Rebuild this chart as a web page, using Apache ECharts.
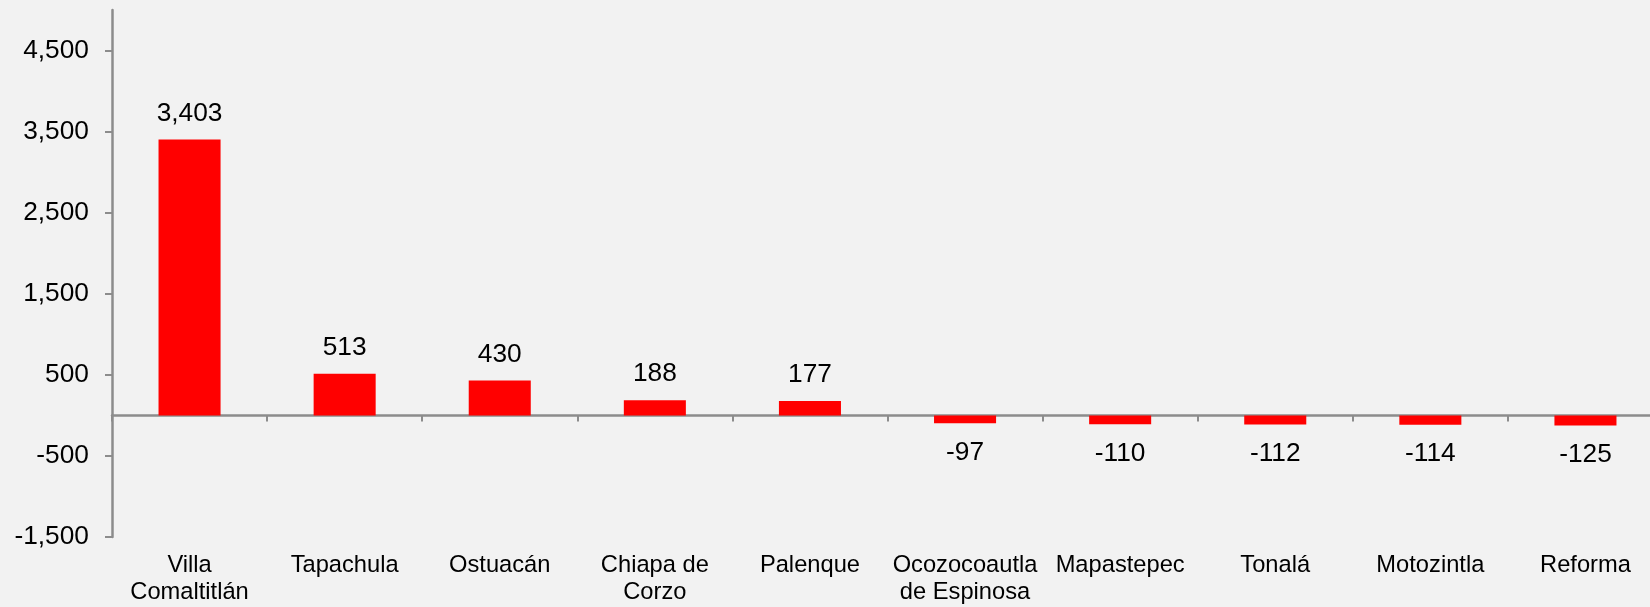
<!DOCTYPE html>
<html>
<head>
<meta charset="utf-8">
<script src="https://cdn.jsdelivr.net/npm/echarts@6/dist/echarts.min.js"></script>
<style>
  html, body { margin: 0; padding: 0; background: #f2f2f2; }
  #chart { width: 1650px; height: 607px; }
</style>
</head>
<body>
<div id="chart"></div>
<script>
// municipios y variación
const categories = [
  'Villa\nComaltitlán', 'Tapachula', 'Ostuacán', 'Chiapa de\nCorzo', 'Palenque',
  'Ocozocoautla\nde Espinosa', 'Mapastepec', 'Tonalá', 'Motozintla', 'Reforma'
]
const values = [3403, 513, 430, 188, 177, -97, -110, -112, -114, -125]
const yTicks = [-1500, -500, 500, 1500, 2500, 3500, 4500]

const FONT = 'Liberation Sans, Arial, sans-serif'
const AXIS_COLOR = '#8c8c8c'

const chart = echarts.init(document.getElementById('chart'))

// etiqueta arriba para positivos, abajo para negativos
const barData = values.map(v => ({
  value: v,
  label: { position: v >= 0 ? 'top' : 'bottom', distance: v >= 0 ? 13 : 16 }
}))

const option = {
  backgroundColor: '#f2f2f2',
  animation: false,
  grid: { left: 112, top: 10, width: 1551, bottom: 70, outerBoundsMode: 'none', containLabel: false },
  xAxis: [
    {
      // etiquetas abajo
      type: 'category',
      position: 'bottom',
      data: categories,
      axisLine: { show: false, onZero: false },
      axisTick: { show: false },
      axisLabel: {
        interval: 0,
        margin: 15,
        color: '#000',
        fontFamily: FONT,
        fontSize: 23.7,
        lineHeight: 27
      }
    },
    {
      // línea del cero
      type: 'category',
      position: 'top',
      data: categories,
      axisLine: { show: true, onZero: true, lineStyle: { color: AXIS_COLOR, width: 2.5 } },
      axisTick: { show: true, inside: true, length: 6, lineStyle: { color: AXIS_COLOR, width: 2 } },
      axisLabel: { show: false }
    }
  ],
  yAxis: {
    type: 'value',
    min: -1500,
    max: 5000,
    splitLine: { show: false },
    axisLine: { show: true, lineStyle: { color: AXIS_COLOR, width: 2.5 } },
    axisTick: { show: true, length: 7, customValues: yTicks, lineStyle: { color: AXIS_COLOR, width: 2 } },
    axisLabel: {
      customValues: yTicks,
      margin: 23,
      color: '#000',
      fontFamily: FONT,
      fontSize: 26.3,
      formatter: v => v.toLocaleString('en-US')
    }
  },
  series: [{
    type: 'bar',
    xAxisIndex: 0,
    data: barData,
    barWidth: '40%',
    itemStyle: { color: '#ff0000' },
    label: {
      show: true,
      color: '#000',
      fontFamily: FONT,
      fontSize: 26.3,
      formatter: p => p.value.toLocaleString('en-US')
    }
  }]
}

chart.setOption(option)
</script>
</body>
</html>
